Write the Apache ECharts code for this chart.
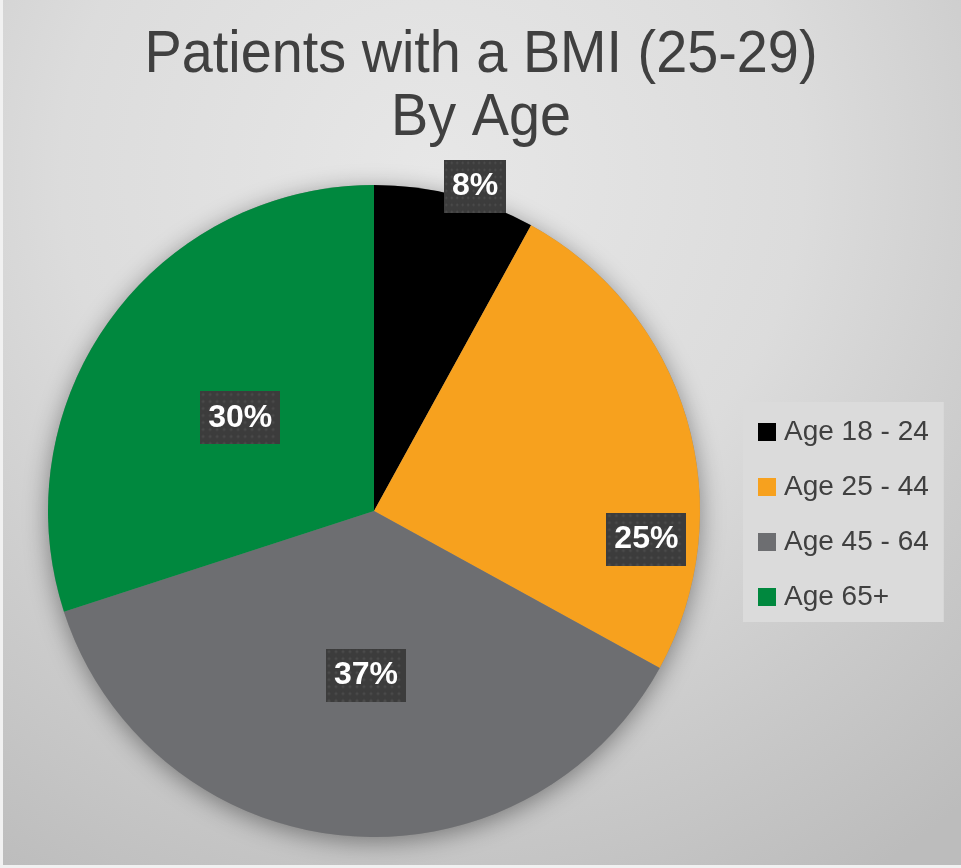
<!DOCTYPE html>
<html>
<head>
<meta charset="utf-8">
<script src="https://cdn.jsdelivr.net/npm/echarts@6/dist/echarts.min.js"></script>
<style>
html,body{margin:0;padding:0;background:#fff;}
#chart{width:961px;height:868px;}
</style>
</head>
<body>
<div id="chart"></div>
<script>
// ---- data ----
const titleLines = ['Patients with a BMI (25-29)', 'By Age'];
const categories = ['Age 18 - 24', 'Age 25 - 44', 'Age 45 - 64', 'Age 65+'];
const values = [8, 25, 37, 30];
const colors = ['#000000', '#F7A11E', '#6D6E71', '#00883E'];
// label placement (polar adjustments relative to each slice's mid angle)
const labelAngleShift = [2.9, 22.1, -2.6, -1.2];
const labelRadiusFrac = [1.043, 0.84, 0.504, 0.5];

const CX = 374, CY = 511, R = 326;

// dotted dark pattern for label boxes
function makePattern(w, h) {
  const c = document.createElement('canvas');
  c.width = w; c.height = h;
  const g = c.getContext('2d');
  g.fillStyle = '#3c3c3c';
  g.fillRect(0, 0, w, h);
  g.fillStyle = '#4a4a4a';
  for (let y = 3; y < h; y += 7) {
    for (let x = 3; x < w; x += 7) {
      g.beginPath(); g.arc(x, y, 1.6, 0, Math.PI * 2); g.fill();
    }
  }
  return c;
}
const pattern = makePattern(80, 53);

const total = values.reduce((a, b) => a + b, 0);
const starts = [];
let acc = 0;
values.forEach(v => { starts.push(acc); acc += v; });

const chart = echarts.init(document.getElementById('chart'), null, {renderer: 'canvas'});

const titleFont = {
  fontFamily: 'Liberation Sans, Arial, sans-serif',
  fontWeight: 'normal',
  fontSize: 60,
  fill: '#404040',
  align: 'center',
  verticalAlign: 'middle',
  textAlign: 'center',
  textVerticalAlign: 'middle'
};

const option = {
  backgroundColor: new echarts.graphic.RadialGradient(0.45, 0.2, 0.95, [
    {offset: 0, color: '#e7e7e7'},
    {offset: 0.45, color: '#dcdcdc'},
    {offset: 0.75, color: '#cacaca'},
    {offset: 1, color: '#bcbcbc'}
  ]),
  animation: false,
  legend: {
    orient: 'vertical',
    left: 743,
    top: 402,
    padding: [14, 15, 9, 15],
    backgroundColor: '#dbdbdb',
    itemWidth: 18,
    itemHeight: 18,
    itemGap: 23,
    icon: 'rect',
    data: categories,
    textStyle: {
      fontFamily: 'Liberation Sans',
      fontSize: 28,
      lineHeight: 28,
      color: '#404040',
      padding: [4, 0, 0, 3]
    }
  },
  graphic: [
    {type: 'text', x: 481, y: 55, scaleX: 0.93, silent: true,
     style: Object.assign({text: titleLines[0]}, titleFont), z: 10},
    {type: 'text', x: 481, y: 118, scaleX: 0.93, silent: true,
     style: Object.assign({text: titleLines[1]}, titleFont), z: 10},
    {type: 'rect', left: 0, top: 0, shape: {width: 3, height: 868}, style: {fill: '#f1f1f1'}, z: 100},
    {type: 'rect', left: 0, top: 865, shape: {width: 961, height: 3}, style: {fill: '#f1f1f1'}, z: 100}
  ],
  series: [
    {
      type: 'pie',
      silent: true,
      center: [CX, CY],
      radius: R,
      z: 1,
      label: {show: false},
      labelLine: {show: false},
      itemStyle: {color: '#888', shadowBlur: 24, shadowOffsetY: 5, shadowColor: 'rgba(0,0,0,0.4)'},
      data: [{value: total, name: '__shadow'}],
      legendHoverLink: false
    },
    {
      type: 'pie',
      center: [CX, CY],
      radius: R,
      startAngle: 90,
      clockwise: true,
      z: 2,
      avoidLabelOverlap: false,
      color: colors,
      itemStyle: {borderWidth: 0},
      label: {
        show: true,
        position: 'inside',
        formatter: '{c}%',
        fontFamily: 'Liberation Sans',
        fontWeight: 'bold',
        fontSize: 32,
        lineHeight: 39,
        color: '#ffffff',
        backgroundColor: {image: pattern},
        padding: [7, 8],
        shadowColor: 'rgba(0,0,0,0.45)',
        shadowBlur: 6,
        shadowOffsetX: 4,
        shadowOffsetY: 4
      },
      labelLine: {show: false},
      labelLayout: function (params) {
        const i = params.dataIndex;
        const mid = (starts[i] + values[i] / 2) / total * 360;
        const ang = (mid + labelAngleShift[i]) * Math.PI / 180;
        const d = labelRadiusFrac[i] * R;
        return {x: CX + d * Math.sin(ang), y: CY - d * Math.cos(ang), align: 'center', verticalAlign: 'middle'};
      },
      data: categories.map((c, i) => ({name: c, value: values[i]}))
    }
  ]
};
chart.setOption(option);
</script>
</body>
</html>
